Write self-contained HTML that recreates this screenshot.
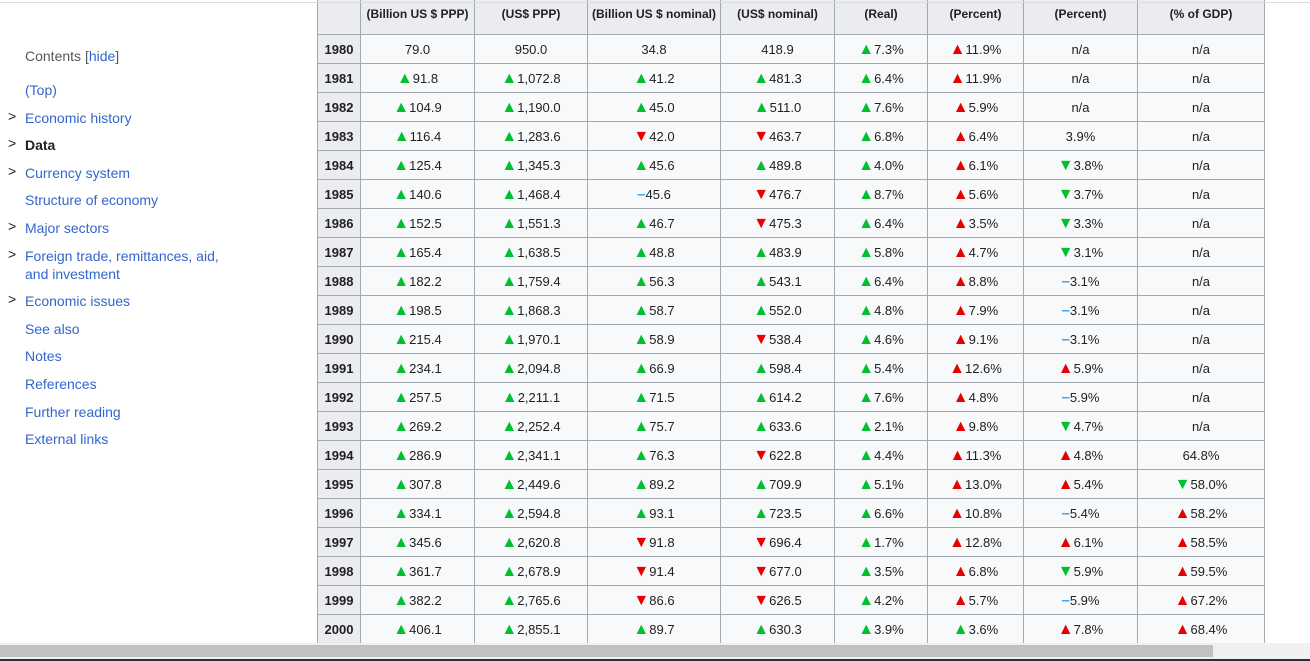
<!DOCTYPE html>
<html><head><meta charset="utf-8"><style>
body{margin:0;width:1310px;height:661px;overflow:hidden;background:#fff;font-family:"Liberation Sans",Arial,sans-serif;position:relative}
.topline{position:absolute;left:0;top:2px;width:1310px;height:1px;background:#dcdcdc;z-index:2}
.toc{position:absolute;left:25px;font-size:14px;color:#3366cc;line-height:18px}
.chev{position:absolute;left:8px;font-size:14px;color:#202122}
table{position:absolute;left:317px;top:-22px;border-collapse:collapse;font-size:13px;color:#202122}
td,th{border:1px solid #a2a9b1;padding:0;text-align:center;height:28px;background:#f8f9fa;white-space:nowrap}
th{background:#eaecf0;font-weight:bold}
thead th{font-size:12px;height:56px;vertical-align:bottom;padding-bottom:13px;box-sizing:border-box}
thead th.yr{vertical-align:top;padding-top:10px;padding-bottom:0}
tbody th{font-size:13px}
.u{color:#00c030;font-size:16px;line-height:10px}.d{color:#e80000;font-size:16px;line-height:10px}.n{color:#33a8ff;font-weight:bold;font-size:15px;line-height:10px}
.sb{position:absolute;left:0;top:643px;width:1310px;height:16px;background:#f0f0f0}
.th{position:absolute;left:0;top:645px;width:1213px;height:12px;background:#c1c1c1}
.bl{position:absolute;left:0;top:659px;width:1310px;height:2px;background:#2a2f36}
</style></head><body>
<div class="topline"></div>
<div>
<div class="toc" style="top:47px;color:#54595d">Contents <span style="color:#54595d">[</span><span style="color:#3366cc">hide</span><span style="color:#54595d">]</span></div>
<div class="toc" style="top:81px">(Top)</div>
<div class="chev" style="top:108px">&gt;</div><div class="toc" style="top:109px">Economic history</div>
<div class="chev" style="top:135px">&gt;</div><div class="toc" style="top:136px;color:#202122;font-weight:bold">Data</div>
<div class="chev" style="top:163px">&gt;</div><div class="toc" style="top:164px">Currency system</div>
<div class="toc" style="top:191px">Structure of economy</div>
<div class="chev" style="top:218px">&gt;</div><div class="toc" style="top:219px">Major sectors</div>
<div class="chev" style="top:246px">&gt;</div><div class="toc" style="top:247px">Foreign trade, remittances, aid,<br>and investment</div>
<div class="chev" style="top:291px">&gt;</div><div class="toc" style="top:292px">Economic issues</div>
<div class="toc" style="top:320px">See also</div>
<div class="toc" style="top:347px">Notes</div>
<div class="toc" style="top:375px">References</div>
<div class="toc" style="top:403px">Further reading</div>
<div class="toc" style="top:430px">External links</div>
</div>
<table>
<colgroup><col style="width:43px"><col style="width:114px"><col style="width:113px"><col style="width:133px"><col style="width:114px"><col style="width:93px"><col style="width:96px"><col style="width:114px"><col style="width:127px"></colgroup>
<thead><tr>
<th class="yr">Year</th>
<th>(Billion US $ PPP)</th>
<th>(US$ PPP)</th>
<th>(Billion US $ nominal)</th>
<th>(US$ nominal)</th>
<th>(Real)</th>
<th>(Percent)</th>
<th>(Percent)</th>
<th>(% of GDP)</th>
</tr></thead>
<tbody id="tb"></tbody>
</table>
<div class="sb"></div>
<div class="th"></div>
<div class="bl"></div>
<script>
const years=[1980,1981,1982,1983,1984,1985,1986,1987,1988,1989,1990,1991,1992,1993,1994,1995,1996,1997,1998,1999,2000];
const rows=[
["79.0","950.0","34.8","418.9","u7.3%","r11.9%","n/a","n/a"],
["u91.8","u1,072.8","u41.2","u481.3","u6.4%","r11.9%","n/a","n/a"],
["u104.9","u1,190.0","u45.0","u511.0","u7.6%","r5.9%","n/a","n/a"],
["u116.4","u1,283.6","d42.0","d463.7","u6.8%","r6.4%","3.9%","n/a"],
["u125.4","u1,345.3","u45.6","u489.8","u4.0%","r6.1%","g3.8%","n/a"],
["u140.6","u1,468.4","n45.6","d476.7","u8.7%","r5.6%","g3.7%","n/a"],
["u152.5","u1,551.3","u46.7","d475.3","u6.4%","r3.5%","g3.3%","n/a"],
["u165.4","u1,638.5","u48.8","u483.9","u5.8%","r4.7%","g3.1%","n/a"],
["u182.2","u1,759.4","u56.3","u543.1","u6.4%","r8.8%","n3.1%","n/a"],
["u198.5","u1,868.3","u58.7","u552.0","u4.8%","r7.9%","n3.1%","n/a"],
["u215.4","u1,970.1","u58.9","d538.4","u4.6%","r9.1%","n3.1%","n/a"],
["u234.1","u2,094.8","u66.9","u598.4","u5.4%","r12.6%","r5.9%","n/a"],
["u257.5","u2,211.1","u71.5","u614.2","u7.6%","r4.8%","n5.9%","n/a"],
["u269.2","u2,252.4","u75.7","u633.6","u2.1%","r9.8%","g4.7%","n/a"],
["u286.9","u2,341.1","u76.3","d622.8","u4.4%","r11.3%","r4.8%","64.8%"],
["u307.8","u2,449.6","u89.2","u709.9","u5.1%","r13.0%","r5.4%","g58.0%"],
["u334.1","u2,594.8","u93.1","u723.5","u6.6%","r10.8%","n5.4%","r58.2%"],
["u345.6","u2,620.8","d91.8","d696.4","u1.7%","r12.8%","r6.1%","r58.5%"],
["u361.7","u2,678.9","d91.4","d677.0","u3.5%","r6.8%","g5.9%","r59.5%"],
["u382.2","u2,765.6","d86.6","d626.5","u4.2%","r5.7%","n5.9%","r67.2%"],
["u406.1","u2,855.1","u89.7","u630.3","u3.9%","u3.6%","r7.8%","r68.4%"]];
const cols=["gdp-ppp","gdp-per-capita-ppp","gdp-nominal","gdp-per-capita-nominal","growth","inflation","unemployment","debt"];
const icons={u:'<span class="u">▲</span>',r:'<span class="d">▲</span>',d:'<span class="d">▼</span>',g:'<span class="u">▼</span>',n:'<span class="n">–</span>'};
const tb=document.getElementById('tb');
years.forEach((y,i)=>{
  const tr=document.createElement('tr');
  
  
  const th=document.createElement('th');
  th.textContent=y;
  
  
  tr.appendChild(th);
  rows[i].forEach((v,j)=>{
    const td=document.createElement('td');
    const k=v[0];
    if(icons[k]&&v!=="n/a"){td.innerHTML=icons[k]+v.slice(1);}else{td.textContent=v;}
    
    
    tr.appendChild(td);
  });
  tb.appendChild(tr);
});
</script>
</body></html>
